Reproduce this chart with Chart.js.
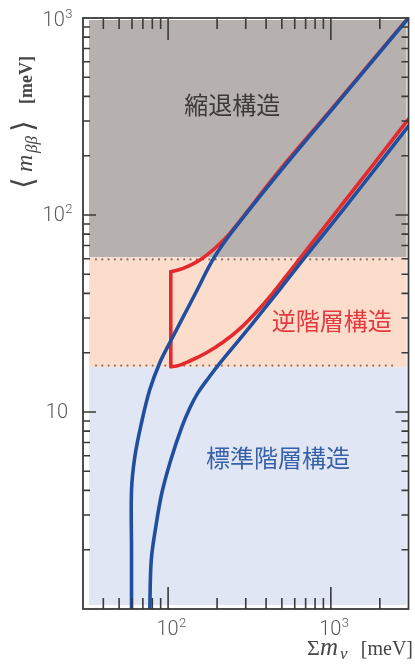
<!DOCTYPE html>
<html>
<head>
<meta charset="utf-8">
<script src="https://cdn.jsdelivr.net/npm/chart.js@4.4.1/dist/chart.umd.min.js"></script>
<style>
html,body{margin:0;padding:0;background:#ffffff;}
canvas{display:block;}
</style>
</head>
<body>
<canvas id="c" width="415" height="664"></canvas>
<script>
// ---------------- data ----------------
const sumRange = [30, 3000];          // Σm_ν [meV]
const massRange = [1, 1000];          // <m_ββ> [meV]

const xMajorTicks = [100, 1000];
const xMinorTicks = [40, 50, 60, 70, 80, 90, 200, 300, 400, 500, 600, 700, 800, 900, 2000];
const yMajorTicks = [10, 100];
const yMinorTicks = [2, 3, 4, 5, 6, 7, 8, 9, 20, 30, 40, 50, 60, 70, 80, 90, 200, 300, 400, 500, 600, 700, 800, 900];

const xTickLabelValues = [100, 1000];
const xTickLabelExps = ['2', '3'];
const yTickLabelValues = [10, 100, 1000];
const yTickLabelExps = ['', '2', '3'];

const bandNames = ['縮退構造', '逆階層構造', '標準階層構造'];
const bandLower = [61, 16.9, 1];
const bandUpper = [1000, 61, 16.9];
const bandLabelSum = [248, 1012, 474];
const bandLabelMass = [361, 29, 5.84];
const dottedLevels = [59.5, 17.2];

// normal hierarchy – upper boundary (blue)
const nhUpperSum  = [59.6, 59.6, 59.6, 62.4, 68.6, 77.2, 88.9, 103.9, 121.5, 146, 190, 246.7, 487, 1000, 3000];
const nhUpperMass = [0.8, 2.0, 4.0, 5.9, 8.8, 13.0, 17.8, 23.0, 29.5, 39.5, 60, 82, 166, 338, 1000];

// normal hierarchy – lower boundary (blue)
const nhLowerSum  = [76.9, 77.2, 78.8, 84.0, 91.5, 103.9, 121.5, 136.0, 152.4, 178.1, 208.1, 276.4, 367.1, 487.3, 694.6, 990, 1515, 3000];
const nhLowerMass = [0.8, 1.0, 1.77, 2.61, 3.88, 5.71, 8.4, 10.48, 12.5, 14.97, 17.7, 23.5, 31.4, 42.1, 61.2, 87.9, 137.1, 283];

// inverted hierarchy – upper boundary (red)
const ihUpperSum  = [103.9, 123.7, 156.8, 198.6, 239.9, 487, 1000, 3000];
const ihUpperMass = [51.5, 53.6, 59.1, 69.0, 80.8, 170, 342, 1005];

// inverted hierarchy – left edge (red)
const ihEdgeSum  = [103.9, 103.9];
const ihEdgeMass = [51.5, 17.0];

// inverted hierarchy – lower boundary (red)
const ihLowerSum  = [103.9, 113.1, 136.0, 173.1, 220.3, 276.4, 346.7, 435, 577.8, 835.2, 1225, 1874, 3000];
const ihLowerMass = [17.0, 17.12, 18.15, 20.05, 22.8, 26.5, 32.0, 39.7, 53.5, 79.1, 118.5, 185.8, 307.2];

// ---------------- helpers ----------------
const zip = (xs, ys) => xs.map((x, i) => ({x: x, y: ys[i]}));

const BLUE = '#1f4f9e';
const RED = '#e42a2e';

const bgPlugin = {
  id: 'bgPlugin',
  beforeDatasetsDraw(chart) {
    const {ctx, chartArea: a, scales: {x, y}} = chart;
    ctx.save();
    const L = a.left + 6, R = a.right - 2;
    const fills = ['#b6b1af', '#fcdccb', '#e1e6f4'];
    for (let i = 0; i < bandNames.length; i++) {
      const top = Math.max(y.getPixelForValue(bandUpper[i]), a.top + 2);
      const bot = Math.min(y.getPixelForValue(bandLower[i]), a.bottom - 4);
      ctx.fillStyle = fills[i];
      ctx.fillRect(L, top, R - L, bot - top);
    }
    // dotted borders
    ctx.fillStyle = '#7e6e6a';
    dottedLevels.forEach(v => {
      const py = y.getPixelForValue(v);
      for (let px = L + 7; px <= R - 9; px += 6.3) {
        ctx.beginPath();
        ctx.arc(px, py, 1.05, 0, Math.PI * 2);
        ctx.fill();
      }
    });
    // band labels
    const colors = ['#3b3939', '#e23a3f', '#3761a8'];
    ctx.font = '24px "Noto Sans CJK JP", "Noto Sans CJK SC", sans-serif';
    ctx.textAlign = 'center';
    ctx.textBaseline = 'middle';
    for (let i = 0; i < bandNames.length; i++) {
      ctx.fillStyle = colors[i];
      ctx.fillText(bandNames[i], x.getPixelForValue(bandLabelSum[i]), y.getPixelForValue(bandLabelMass[i]));
    }
    ctx.restore();
  }
};

function drawPow(ctx, base, exp, x, yc, align) {
  const bigFont = '300 20px Roboto, "Open Sans", sans-serif';
  const smallFont = '300 13px Roboto, "Open Sans", sans-serif';
  ctx.font = bigFont;
  const wb = ctx.measureText(base).width;
  ctx.font = smallFont;
  const we = exp ? ctx.measureText(exp).width : 0;
  let start;
  if (align === 'right') start = x - wb - we;
  else start = x - (wb + we) / 2;
  ctx.textAlign = 'left';
  ctx.textBaseline = 'middle';
  ctx.font = bigFont;
  ctx.fillText(base, start, yc + 1);
  if (exp) {
    ctx.font = smallFont;
    ctx.fillText(exp, start + wb + 0.5, yc - 5);
  }
}

const framePlugin = {
  id: 'framePlugin',
  afterDatasetsDraw(chart) {
    const {ctx, chartArea: a, scales: {x, y}} = chart;
    ctx.save();
    ctx.strokeStyle = '#3a3a3a';
    ctx.lineWidth = 1.8;
    ctx.strokeRect(a.left, a.top, a.right - a.left, a.bottom - a.top);
    ctx.lineWidth = 1.6;
    ctx.beginPath();
    const xt = (v, len) => {
      const px = x.getPixelForValue(v);
      ctx.moveTo(px, a.bottom); ctx.lineTo(px, a.bottom - len);
      ctx.moveTo(px, a.top); ctx.lineTo(px, a.top + len);
    };
    const yt = (v, len) => {
      const py = y.getPixelForValue(v);
      ctx.moveTo(a.left, py); ctx.lineTo(a.left + len, py);
      ctx.moveTo(a.right, py); ctx.lineTo(a.right - len, py);
    };
    xMajorTicks.forEach(v => xt(v, 22));
    xMinorTicks.forEach(v => xt(v, 11));
    yMajorTicks.forEach(v => yt(v, 13));
    yMinorTicks.forEach(v => yt(v, 7));
    ctx.stroke();
    ctx.restore();
  },
  afterDraw(chart) {
    const {ctx, chartArea: a, scales: {x, y}} = chart;
    ctx.save();
    ctx.fillStyle = '#5a5a5a';
    xTickLabelValues.forEach((v, i) => {
      drawPow(ctx, '10', xTickLabelExps[i], x.getPixelForValue(v) + 3, a.bottom + 20, 'center');
    });
    yTickLabelValues.forEach((v, i) => {
      const yc = Math.max(y.getPixelForValue(v), a.top + 2);
      drawPow(ctx, '10', yTickLabelExps[i], yTickLabelExps[i] ? a.left - 11 : a.left - 15, yc, 'right');
    });

    // x axis title: Σm_ν [meV]
    ctx.fillStyle = '#454545';
    ctx.textAlign = 'left';
    ctx.textBaseline = 'alphabetic';
    ctx.font = '22px "Liberation Serif", "DejaVu Serif", serif';
    ctx.fillText('Σ', 307, 655);
    ctx.font = 'italic 25px "Liberation Serif", "DejaVu Serif", serif';
    ctx.fillText('m', 320, 655);
    ctx.font = 'italic 17px "Liberation Serif", "DejaVu Serif", serif';
    ctx.fillText('ν', 340, 659);
    ctx.font = '20px "Liberation Serif", "DejaVu Serif", serif';
    ctx.textAlign = 'right';
    ctx.fillText('[meV]', 413, 655);

    // y axis title: <m_ββ> [meV]
    ctx.translate(32, 188);
    ctx.rotate(-Math.PI / 2);
    ctx.textAlign = 'left';
    ctx.font = '30px "DejaVu Serif", "DejaVu Sans", serif';
    ctx.fillText('⟨', -1, 1);
    ctx.font = 'italic 24px "Liberation Serif", "DejaVu Serif", serif';
    ctx.fillText('m', 16, 0);
    ctx.font = 'italic 17px "Liberation Serif", "DejaVu Serif", serif';
    ctx.fillText('ββ', 35, 5);
    ctx.font = '30px "DejaVu Serif", "DejaVu Sans", serif';
    ctx.fillText('⟩', 56, 1);
    ctx.font = 'bold 18px "Liberation Serif", "DejaVu Serif", serif';
    ctx.fillText('[meV]', 84, 0);
    ctx.restore();
  }
};

const lineStyle = (color, order) => ({
  borderColor: color,
  backgroundColor: color,
  borderWidth: 3.6,
  showLine: true,
  pointRadius: 0,
  pointHoverRadius: 0,
  tension: 0.35,
  borderCapStyle: 'round',
  borderJoinStyle: 'round',
  fill: false,
  order: order
});

new Chart(document.getElementById('c'), {
  type: 'scatter',
  data: {
    datasets: [
      Object.assign({label: 'NH upper', data: zip(nhUpperSum, nhUpperMass)}, lineStyle(BLUE, 1)),
      Object.assign({label: 'NH lower', data: zip(nhLowerSum, nhLowerMass)}, lineStyle(BLUE, 1)),
      Object.assign({label: 'IH upper', data: zip(ihUpperSum, ihUpperMass)}, lineStyle(RED, 2)),
      Object.assign({label: 'IH edge', data: zip(ihEdgeSum, ihEdgeMass)}, lineStyle(RED, 2), {tension: 0}),
      Object.assign({label: 'IH lower', data: zip(ihLowerSum, ihLowerMass)}, lineStyle(RED, 2), {cubicInterpolationMode: 'monotone'})
    ]
  },
  options: {
    responsive: false,
    animation: false,
    devicePixelRatio: 1,
    layout: {padding: {left: 83, right: 6.5, top: 18, bottom: 55}},
    scales: {
      x: {type: 'logarithmic', min: sumRange[0], max: sumRange[1], display: false},
      y: {type: 'logarithmic', min: massRange[0], max: massRange[1], display: false}
    },
    plugins: {legend: {display: false}, tooltip: {enabled: false}}
  },
  plugins: [bgPlugin, framePlugin]
});
</script>
</body>
</html>
